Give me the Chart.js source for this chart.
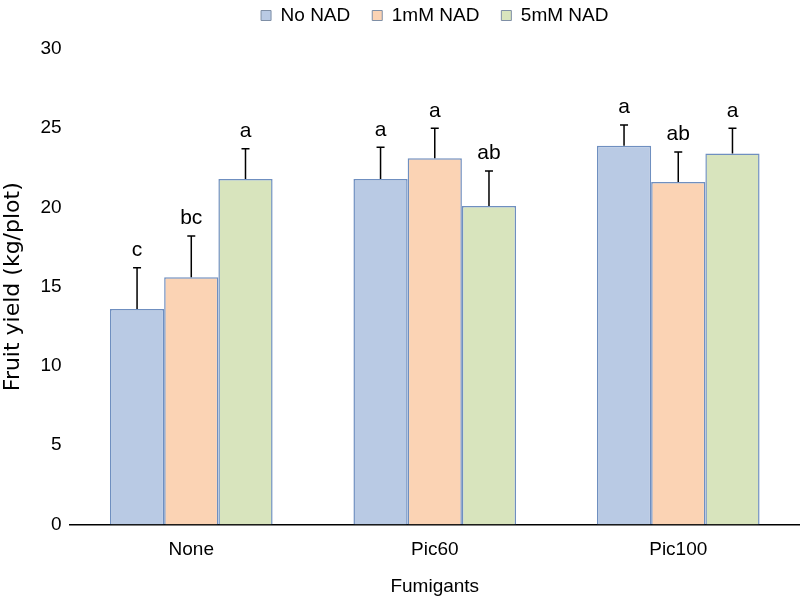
<!DOCTYPE html>
<html>
<head>
<meta charset="utf-8">
<script src="https://cdn.jsdelivr.net/npm/chart.js@4/dist/chart.umd.min.js"></script>
<style>
  html, body { margin: 0; padding: 0; background: #fff; }
  #wrap { width: 800px; height: 600px; }
</style>
</head>
<body>
<div id="wrap"><canvas id="chart" width="800" height="600"></canvas></div>
<script>
// data
const fumigants = ["None", "Pic60", "Pic100"];
const seriesNames = ["No NAD", "1mM NAD", "5mM NAD"];
const noNad = [13.6, 21.8, 23.9];
const mM1Nad = [15.6, 23.1, 21.6];
const mM5Nad = [21.8, 20.1, 23.4];
const noNadErr = [2.6, 2.0, 1.3];
const mM1NadErr = [2.6, 1.9, 1.9];
const mM5NadErr = [1.9, 2.2, 1.6];
const noNadLetters = ["c", "a", "a"];
const mM1NadLetters = ["bc", "a", "ab"];
const mM5NadLetters = ["a", "ab", "a"];
const yTicks = [0, 5, 10, 15, 20, 25, 30];

const fills = ["#b9cae4", "#fbd3b4", "#d8e4bd"];
const edge = "#6f8fc0";
const sans = "'Liberation Sans', Arial, sans-serif";

// draws error bars and significance letters above each bar
const errorBars = {
    id: "errorBars",
    afterDatasetsDraw(chart) {
        const ctx = chart.ctx;
        const y = chart.scales.y;
        chart.data.datasets.forEach((ds, di) => {
            const meta = chart.getDatasetMeta(di);
            meta.data.forEach((bar, i) => {
                const top = y.getPixelForValue(ds.data[i] + ds.err[i]);
                ctx.save();
                ctx.strokeStyle = "#000";
                ctx.lineWidth = 1.5;
                ctx.beginPath();
                ctx.moveTo(bar.x, bar.y);
                ctx.lineTo(bar.x, top);
                ctx.moveTo(bar.x - 4, top);
                ctx.lineTo(bar.x + 4, top);
                ctx.stroke();
                ctx.fillStyle = "#000";
                ctx.font = "21px " + sans;
                ctx.textAlign = "center";
                ctx.textBaseline = "bottom";
                ctx.fillText(ds.letters[i], bar.x, top - 7);
                ctx.restore();
            });
        });
    }
};

// extra room under the legend
const legendGap = {
    id: "legendGap",
    beforeInit(chart) {
        const fit = chart.legend.fit;
        chart.legend.fit = function () {
            fit.call(this);
            this.height += 14;
        };
    }
};

const ctx = document.getElementById("chart").getContext("2d");
const allValues = [noNad, mM1Nad, mM5Nad];
const allErr = [noNadErr, mM1NadErr, mM5NadErr];
const allLetters = [noNadLetters, mM1NadLetters, mM5NadLetters];

const chart = new Chart(ctx, {
    type: "bar",
    data: {
        labels: fumigants,
        datasets: seriesNames.map((name, k) => ({
            label: name,
            data: allValues[k],
            err: allErr[k],
            letters: allLetters[k],
            backgroundColor: fills[k],
            borderColor: edge,
            borderWidth: 1.5,
            barPercentage: 1.0,
            categoryPercentage: 0.668
        }))
    },
    options: {
        responsive: false,
        animation: false,
        layout: { padding: { top: -16, right: 0, bottom: 2, left: 0 } },
        plugins: {
            legend: {
                position: "top",
                fullSize: false,
                labels: {
                    boxWidth: 10,
                    boxHeight: 10,
                    color: "#000",
                    padding: 22,
                    font: { family: sans, size: 19 },
                    generateLabels(c) {
                        return c.data.datasets.map((ds, i) => ({
                            text: ds.label,
                            fillStyle: ds.backgroundColor,
                            strokeStyle: "#7f8fa6",
                            lineWidth: 1,
                            datasetIndex: i
                        }));
                    }
                }
            },
            tooltip: { enabled: false }
        },
        scales: {
            x: {
                grid: { display: false, drawTicks: false },
                border: { display: true, color: "#000", width: 1.5 },
                ticks: { color: "#000", font: { family: sans, size: 19 }, padding: 14 },
                title: {
                    display: true,
                    text: "Fumigants",
                    color: "#000",
                    font: { family: sans, size: 19 },
                    padding: { top: 0, bottom: 0 }
                }
            },
            y: {
                min: 0,
                max: 30,
                afterBuildTicks(axis) {
                    axis.ticks = yTicks.map(v => ({ value: v }));
                },
                grid: { display: false, drawTicks: false },
                border: { display: false },
                ticks: { color: "#000", font: { family: sans, size: 19 }, padding: 8 },
                title: {
                    display: true,
                    text: "Fruit yield (kg/plot)",
                    color: "#000",
                    font: { family: "'DejaVu Sans', sans-serif", size: 22 },
                    padding: { top: 0, bottom: 6 }
                }
            }
        }
    },
    plugins: [errorBars, legendGap]
});
</script>
</body>
</html>
